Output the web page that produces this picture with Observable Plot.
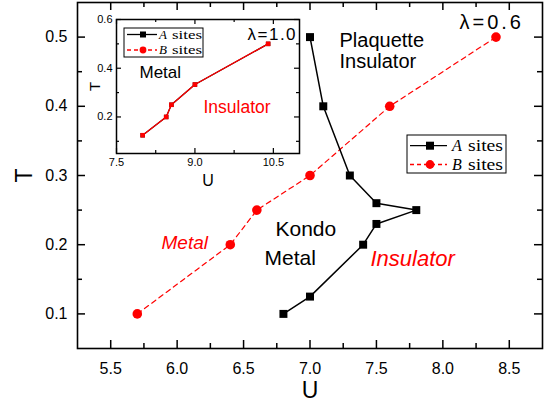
<!DOCTYPE html>
<html><head><meta charset="utf-8">
<script src="https://cdn.jsdelivr.net/npm/d3@7"></script>
<script src="https://cdn.jsdelivr.net/npm/@observablehq/plot@0.6"></script>
<style>
body{margin:0;background:#fff}
#wrap{position:relative;width:548px;height:407px;font-family:"Liberation Sans",Arial,sans-serif}
#wrap svg{position:absolute;overflow:visible}
</style>
</head><body><div id="wrap"></div>
<script>
// ---- main chart data (lambda = 0.6) ----
const aU = [6.8, 7.0, 7.4, 7.5, 7.8, 7.5, 7.3, 7.1, 7.0];
const aT = [0.1, 0.125, 0.2, 0.23, 0.25, 0.26, 0.3, 0.4, 0.5];
const bU = [5.7, 6.4, 6.6, 7.0, 7.6, 8.4];
const bT = [0.1, 0.2, 0.25, 0.3, 0.4, 0.5];
const xTicks = [5.5, 6.0, 6.5, 7.0, 7.5, 8.0, 8.5];
const xMinor = [5.75, 6.25, 6.75, 7.25, 7.75, 8.25];
const yTicks = [0.1, 0.2, 0.3, 0.4, 0.5];
const yMinor = [0.15, 0.25, 0.35, 0.45];
// ---- inset data (lambda = 1.0) ----
const insetAU = [8.0, 8.45, 8.55, 9.0, 10.4];
const insetAT = [0.125, 0.2, 0.25, 0.333, 0.5];
const insetBU = [8.0, 8.45, 8.55, 9.0, 10.4];
const insetBT = [0.125, 0.2, 0.25, 0.333, 0.5];
const insetXTicks = [7.5, 9.0, 10.5];
const insetXMinor = [8.25, 9.75];
const insetYTicks = [0.2, 0.4, 0.6];
const insetYMinor = [0.1, 0.3, 0.5];
const legendLabels = ["A", "B"];

const zip = (u, t) => u.map((d, i) => ({U: d, T: t[i]}));
const A = zip(aU, aT), B = zip(bU, bT);
const IA = zip(insetAU, insetAT), IB = zip(insetBU, insetBT);

function frameTicks(xs, ys, len, innerW, innerH, sw) {
  const o = {stroke: "black", strokeWidth: sw};
  return [
    Plot.tickX(xs, {...o, x: d => d, insetTop: innerH - len}),
    Plot.tickX(xs, {...o, x: d => d, insetBottom: innerH - len}),
    Plot.tickY(ys, {...o, y: d => d, insetRight: innerW - len}),
    Plot.tickY(ys, {...o, y: d => d, insetLeft: innerW - len})
  ];
}

const W = 548, H = 407, mL = 77, mR = 6, mT = 2, mB = 59;
const iW = W - mL - mR, iH = H - mT - mB;
const fmt = d => d.toFixed(1);

const main = Plot.plot({
  width: W, height: H, marginLeft: mL, marginRight: mR, marginTop: mT, marginBottom: mB,
  style: {fontFamily: '"Liberation Sans", Arial, sans-serif', color: "black", background: "transparent", overflow: "visible"},
  x: {domain: [5.25, 8.75]},
  y: {domain: [0.05, 0.55]},
  marks: [
    Plot.frame({stroke: "black", strokeWidth: 1.6}),
    ...frameTicks(xTicks, yTicks, 8, iW, iH, 1.5),
    ...frameTicks(xMinor, yMinor, 5, iW, iH, 1.5),
    Plot.axisX(xTicks, {tickSize: 0, tickPadding: 14, fontSize: 16, tickFormat: fmt, label: null}),
    Plot.axisY(yTicks, {tickSize: 0, tickPadding: 10, fontSize: 16, tickFormat: fmt, label: null}),
    Plot.text(["U"], {frameAnchor: "bottom", dy: 42, lineAnchor: "middle", fontSize: 23}),
    Plot.text(["T"], {frameAnchor: "left", dx: -53, lineAnchor: "middle", textAnchor: "middle", fontSize: 23, rotate: -90}),
    Plot.line(B, {x: "U", y: "T", stroke: "#ff0000", strokeWidth: 1.2, strokeDasharray: "5,4"}),
    Plot.dot(B, {x: "U", y: "T", r: 4.8, fill: "#ff0000", stroke: "none"}),
    Plot.line(A, {x: "U", y: "T", stroke: "black", strokeWidth: 1.5}),
    Plot.dot(A, {x: "U", y: "T", symbol: "square", r: 4.5, fill: "black", stroke: "none"}),
    Plot.text(["λ=0.6"], {frameAnchor: "top-left", dx: 382, dy: 26, lineAnchor: "bottom", textAnchor: "start", fontSize: 20, className: "lam"}),
    Plot.text(["Plaquette\nInsulator"], {frameAnchor: "top-left", dx: 262, dy: 30, lineAnchor: "top", textAnchor: "start", fontSize: 20, lineHeight: 1.05}),
    Plot.text(["Kondo"], {frameAnchor: "top-left", dx: 198, dy: 233, lineAnchor: "bottom", textAnchor: "start", fontSize: 21}),
    Plot.text(["Metal"], {frameAnchor: "top-left", dx: 187, dy: 262, lineAnchor: "bottom", textAnchor: "start", fontSize: 21}),
    Plot.text(["Metal"], {frameAnchor: "top-left", dx: 84, dy: 246, lineAnchor: "bottom", textAnchor: "start", fontSize: 19, fontStyle: "italic", fill: "#ff0000"}),
    Plot.text(["Insulator"], {frameAnchor: "top-left", dx: 293, dy: 263, lineAnchor: "bottom", textAnchor: "start", fontSize: 22, fontStyle: "italic", fill: "#ff0000"})
  ]
});
d3.select(main).selectAll(".lam text").style("letter-spacing", "3px");

const IWd = 218, IHt = 195, imL = 30, imR = 5, imT = 19, imB = 42;
const iiW = IWd - imL - imR, iiH = IHt - imT - imB;
const inset = Plot.plot({
  width: IWd, height: IHt, marginLeft: imL, marginRight: imR, marginTop: imT, marginBottom: imB,
  style: {fontFamily: '"Liberation Sans", Arial, sans-serif', color: "black", background: "transparent", overflow: "visible"},
  x: {domain: [7.5, 11.0]},
  y: {domain: [0.05, 0.6]},
  marks: [
    Plot.frame({stroke: "black", strokeWidth: 1.5, fill: "white"}),
    ...frameTicks(insetXTicks, insetYTicks, 5, iiW, iiH, 1.2),
    ...frameTicks(insetXMinor, insetYMinor, 3, iiW, iiH, 1.2),
    Plot.axisX(insetXTicks, {tickSize: 0, tickPadding: 5, fontSize: 11, tickFormat: fmt, label: null}),
    Plot.axisY(insetYTicks, {tickSize: 0, tickPadding: 4, fontSize: 11, tickFormat: fmt, label: null}),
    Plot.text(["U"], {frameAnchor: "bottom", dy: 27, lineAnchor: "middle", fontSize: 16}),
    Plot.text(["T"], {frameAnchor: "left", dx: -21, lineAnchor: "middle", textAnchor: "middle", fontSize: 15, rotate: -90}),
    Plot.line(IA, {x: "U", y: "T", stroke: "black", strokeWidth: 1.2}),
    Plot.dot(IA, {x: "U", y: "T", symbol: "square", r: 2.5, fill: "black", stroke: "none"}),
    Plot.line(IB, {x: "U", y: "T", stroke: "#ff0000", strokeWidth: 1.3}),
    Plot.dot(IB, {x: "U", y: "T", symbol: "square", r: 2.6, fill: "#ff0000", stroke: "none"}),
    Plot.text(["Metal"], {frameAnchor: "top-left", dx: 23, dy: 58, lineAnchor: "bottom", textAnchor: "start", fontSize: 17}),
    Plot.text(["Insulator"], {frameAnchor: "top-left", dx: 87, dy: 93, lineAnchor: "bottom", textAnchor: "start", fontSize: 17.5, fill: "#ff0000"}),
    Plot.text(["λ=1.0"], {frameAnchor: "top-left", dx: 131, dy: 20, lineAnchor: "bottom", textAnchor: "start", fontSize: 17, className: "lam2"})
  ]
});
d3.select(inset).selectAll(".lam2 text").style("letter-spacing", "1.5px");

const wrap = document.getElementById("wrap");
main.style.left = "0px"; main.style.top = "0px";
wrap.appendChild(main);
inset.style.left = (116 - imL) + "px"; inset.style.top = "0px";
wrap.appendChild(inset);

// ---- legends ----
const leg = d3.create("svg").attr("width", W).attr("height", H)
  .style("left", "0px").style("top", "0px").style("pointer-events", "none");
function legend(g, box, rows, o) {
  g.append("rect").attr("x", box[0]).attr("y", box[1]).attr("width", box[2]).attr("height", box[3])
    .attr("fill", "white").attr("stroke", "black").attr("stroke-width", 1);
  rows.forEach((r, i) => {
    const y = o.y0 + i * o.dy;
    g.append("line").attr("x1", o.lx1).attr("x2", o.lx2).attr("y1", y).attr("y2", y)
      .attr("stroke", r.color).attr("stroke-width", 1.3).attr("stroke-dasharray", r.dash);
    if (r.sym === "square") g.append("rect").attr("x", o.mx - o.ms / 2).attr("y", y - o.ms / 2).attr("width", o.ms).attr("height", o.ms).attr("fill", r.color);
    else g.append("circle").attr("cx", o.mx).attr("cy", y).attr("r", o.ms / 2 + 0.4).attr("fill", r.color);
    const t = g.append("text").attr("y", y + o.fs * 0.33).attr("font-family", '"Liberation Serif", "Times New Roman", serif').attr("font-size", o.fs).attr("fill", "black");
    t.append("tspan").attr("x", o.tx).attr("font-style", "italic").text(r.label);
    t.append("tspan").attr("x", o.sx).attr("textLength", o.sw).attr("lengthAdjust", "spacingAndGlyphs").text("sites");
  });
}
const rows = [
  {label: legendLabels[0], color: "black", dash: null, sym: "square"},
  {label: legendLabels[1], color: "#ff0000", dash: "4,3", sym: "circle"}
];
legend(leg.append("g"), [407, 135, 99, 38], rows, {y0: 145.7, dy: 18.8, lx1: 410, lx2: 447, mx: 430, ms: 8, tx: 452, sx: 468, sw: 35, fs: 16});
legend(leg.append("g"), [124, 28, 79, 29], rows, {y0: 34.5, dy: 15.5, lx1: 127, lx2: 157, mx: 143, ms: 6, tx: 159, sx: 172, sw: 30, fs: 13});
wrap.appendChild(leg.node());
</script>
</body></html>
